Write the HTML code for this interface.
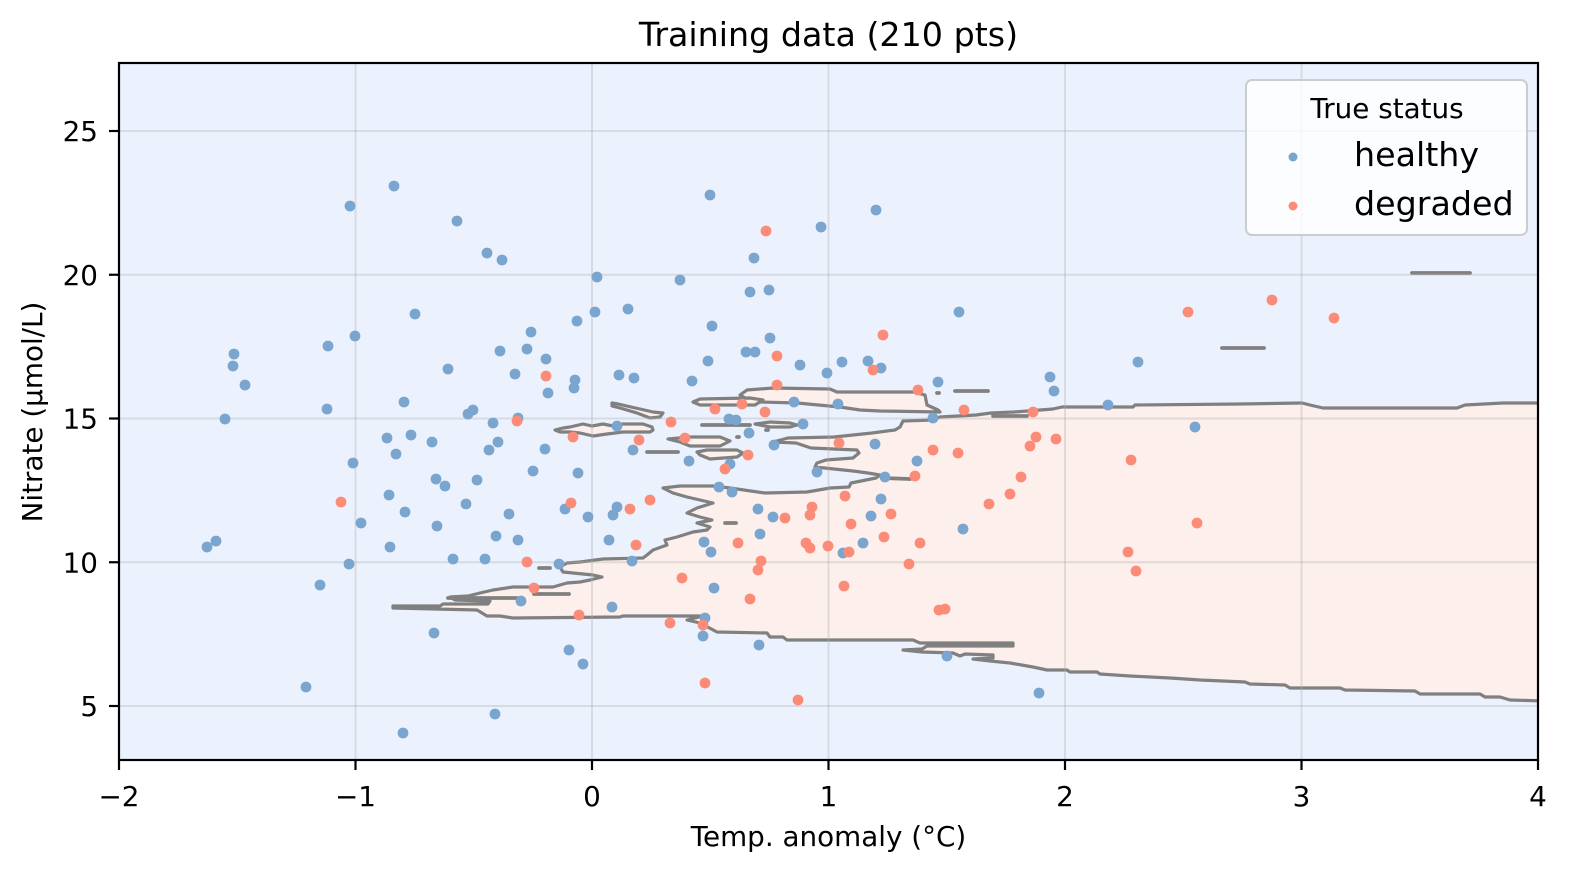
<!DOCTYPE html>
<html>
<head>
<meta charset="utf-8">
<style>
  html,body{margin:0;padding:0;background:#ffffff;}
  svg{display:block;}
  text{font-family:"DejaVu Sans","Liberation Sans",sans-serif;fill:#000;}
</style>
</head>
<body>
<svg width="1572" height="871" viewBox="0 0 1572 871" xmlns="http://www.w3.org/2000/svg">
  <rect x="0" y="0" width="1572" height="871" fill="#ffffff"/>
  <rect x="119" y="63" width="1419" height="697" fill="#ecf2fd"/>

  <defs>
    <clipPath id="plot"><rect x="119" y="63" width="1419" height="697"/></clipPath>
  </defs>

  <g clip-path="url(#plot)">
    <g fill="#fdefeb" stroke="#808080" stroke-width="3.2" stroke-linejoin="round" stroke-linecap="round">
      <path d="M393,608 L393,606 L440,606 L443,604 L488,604 L490,601 L455,600 L450,597 L468,596 L480,593 L493,590 L513,587 L553,587 L567,583 L580,582 L590,580 L602,577 L593,575 L563,572 L560,567 L567,563 L580,562 L603,559 L643,558 L647,555 L653,550 L667,545 L665,540 L677,537 L693,532 L707,530 L710,527 L697,523 L712,520 L700,517 L687,513 L697,508 L713,503 L700,500 L687,497 L673,493 L663,488 L680,486 L713,486 L730,488 L765,493 L807,492 L830,488 L849,487 L851,483 L876,478 L880,475 L868,473 L853,471 L815,467 L817,463 L826,460 L853,458 L859,453 L857,450 L811,448 L796,443 L773,442 L788,438 L834,437 L872,433 L895,430 L900,427 L903,421 L933,420 L940,417 L976,415 L991,413 L1014,412 L1053,409 L1062,407 L1133,407 L1135,405 L1240,404 L1302,403 L1310,405 L1323,408 L1457,408 L1465,405 L1503,403 L1545,403 L1545,701 L1510,700 L1500,697 L1485,697 L1480,694 L1420,694 L1415,691 L1345,690 L1340,688 L1290,688 L1285,685 L1250,684 L1245,682 L1200,680 L1170,678 L1130,676 L1100,674 L1097,672 L1070,672 L1067,670 L1047,670 L1033,667 L1010,663 L990,661 L973,659 L993,658 L993,655 L965,654 L960,656 L953,653 L922,652 L903,650 L922,649 L927,646 L1013,646 L1013,643 L920,643 L913,640 L787,640 L783,637 L770,637 L767,633 L717,632 L700,623 L687,620 L703,616 L623,616 L620,617 L513,618 L500,616 L487,616 L477,610 Z"/>
      <path d="M740,395 L747,390 L773,388 L830,389 L837,392 L873,392 L913,392 L925,395 L927,405 L938,410 L940,412 L880,411 L860,410 L840,407 L797,403 L760,402 L747,399 Z"/>
      <path d="M693,402 L700,399 L750,398 L763,400 L755,405 L700,405 Z"/>
      <path d="M612,403 L618,404 L640,409 L653,412 L663,413 L660,417 L650,418 L637,413 L620,408 L612,406 Z"/>
      <path d="M555,430 L563,428 L570,427 L583,424 L592,426 L603,424 L613,426 L623,424 L643,424 L652,427 L653,430 L650,432 L623,432 L607,434 L593,436 L580,433 L570,432 L560,432 Z"/>
      <path d="M755,424 L770,422 L790,423 L797,425 L790,427 L770,427 Z"/>
      <path d="M668,439 L690,437 L720,437 L730,441 L720,446 L690,446 L680,442 Z"/>
      <path d="M697,452 L707,450 L737,450 L743,453 L737,457 L710,459 L700,455 Z"/>
    </g>
    <g stroke="#808080" stroke-width="3.8" stroke-linecap="round" fill="none">
      <line x1="448" y1="598" x2="517" y2="598"/>
      <line x1="534" y1="594" x2="569" y2="594"/>
      <line x1="539" y1="568" x2="550" y2="568"/>
      <line x1="702" y1="425" x2="750" y2="425"/>
      <line x1="647" y1="452" x2="678" y2="452"/>
      <line x1="766" y1="430" x2="768" y2="430"/>
      <line x1="737" y1="437" x2="739" y2="437"/>
      <line x1="955" y1="391" x2="988" y2="391"/>
      <line x1="937" y1="393" x2="939" y2="393"/>
      <line x1="993" y1="416" x2="1027" y2="416"/>
      <line x1="1222" y1="348" x2="1264" y2="348"/>
      <line x1="1412" y1="273" x2="1470" y2="273"/>
      <line x1="725" y1="523" x2="736" y2="523"/>
      <line x1="882" y1="478" x2="910" y2="479"/>
    </g>

    <g stroke="#b0b0b0" stroke-opacity="0.35" stroke-width="2">
      <line x1="355.5" y1="63" x2="355.5" y2="760"/>
      <line x1="592" y1="63" x2="592" y2="760"/>
      <line x1="828.5" y1="63" x2="828.5" y2="760"/>
      <line x1="1065" y1="63" x2="1065" y2="760"/>
      <line x1="1301.5" y1="63" x2="1301.5" y2="760"/>
      <line x1="119" y1="706" x2="1538" y2="706"/>
      <line x1="119" y1="562.25" x2="1538" y2="562.25"/>
      <line x1="119" y1="418.5" x2="1538" y2="418.5"/>
      <line x1="119" y1="274.75" x2="1538" y2="274.75"/>
      <line x1="119" y1="131" x2="1538" y2="131"/>
    </g>

    <g fill="#79a5cf">
      <circle cx="394" cy="186" r="5.4"/><circle cx="350" cy="206" r="5.4"/><circle cx="457" cy="221" r="5.4"/><circle cx="487" cy="253" r="5.4"/><circle cx="502" cy="260" r="5.4"/>
      <circle cx="415" cy="314" r="5.4"/><circle cx="355" cy="336" r="5.4"/><circle cx="328" cy="346" r="5.4"/><circle cx="234" cy="354" r="5.4"/><circle cx="233" cy="366" r="5.4"/>
      <circle cx="577" cy="321" r="5.4"/><circle cx="531" cy="332" r="5.4"/><circle cx="500" cy="351" r="5.4"/><circle cx="527" cy="349" r="5.4"/><circle cx="546" cy="359" r="5.4"/>
      <circle cx="448" cy="369" r="5.4"/><circle cx="515" cy="374" r="5.4"/><circle cx="575" cy="380" r="5.4"/>
      <circle cx="710" cy="195" r="5.4"/><circle cx="876" cy="210" r="5.4"/><circle cx="821" cy="227" r="5.4"/><circle cx="754" cy="258" r="5.4"/><circle cx="597" cy="277" r="5.4"/>
      <circle cx="680" cy="280" r="5.4"/><circle cx="750" cy="292" r="5.4"/><circle cx="769" cy="290" r="5.4"/><circle cx="595" cy="312" r="5.4"/><circle cx="628" cy="309" r="5.4"/>
      <circle cx="959" cy="312" r="5.4"/><circle cx="712" cy="326" r="5.4"/><circle cx="770" cy="338" r="5.4"/><circle cx="746" cy="352" r="5.4"/><circle cx="755" cy="352" r="5.4"/>
      <circle cx="708" cy="361" r="5.4"/><circle cx="800" cy="365" r="5.4"/><circle cx="842" cy="362" r="5.4"/><circle cx="868" cy="361" r="5.4"/><circle cx="881" cy="368" r="5.4"/>
      <circle cx="827" cy="373" r="5.4"/><circle cx="619" cy="375" r="5.4"/><circle cx="634" cy="378" r="5.4"/><circle cx="692" cy="381" r="5.4"/><circle cx="938" cy="382" r="5.4"/>
      <circle cx="245" cy="385" r="5.4"/><circle cx="327" cy="409" r="5.4"/><circle cx="225" cy="419" r="5.4"/><circle cx="387" cy="438" r="5.4"/><circle cx="353" cy="463" r="5.4"/>
      <circle cx="389" cy="495" r="5.4"/><circle cx="361" cy="523" r="5.4"/><circle cx="390" cy="547" r="5.4"/><circle cx="216" cy="541" r="5.4"/><circle cx="207" cy="547" r="5.4"/>
      <circle cx="349" cy="564" r="5.4"/><circle cx="320" cy="585" r="5.4"/><circle cx="306" cy="687" r="5.4"/>
      <circle cx="574" cy="388" r="5.4"/><circle cx="548" cy="393" r="5.4"/><circle cx="404" cy="402" r="5.4"/><circle cx="468" cy="414" r="5.4"/><circle cx="473" cy="410" r="5.4"/>
      <circle cx="518" cy="418" r="5.4"/><circle cx="493" cy="423" r="5.4"/><circle cx="411" cy="435" r="5.4"/><circle cx="432" cy="442" r="5.4"/><circle cx="489" cy="450" r="5.4"/>
      <circle cx="498" cy="442" r="5.4"/><circle cx="545" cy="449" r="5.4"/><circle cx="617" cy="426" r="5.4"/><circle cx="633" cy="450" r="5.4"/><circle cx="729" cy="419" r="5.4"/>
      <circle cx="736" cy="420" r="5.4"/><circle cx="749" cy="433" r="5.4"/><circle cx="774" cy="445" r="5.4"/><circle cx="689" cy="461" r="5.4"/><circle cx="730" cy="464" r="5.4"/>
      <circle cx="533" cy="471" r="5.4"/><circle cx="578" cy="473" r="5.4"/><circle cx="396" cy="454" r="5.4"/><circle cx="436" cy="479" r="5.4"/><circle cx="445" cy="486" r="5.4"/>
      <circle cx="477" cy="480" r="5.4"/><circle cx="405" cy="512" r="5.4"/><circle cx="466" cy="504" r="5.4"/><circle cx="509" cy="514" r="5.4"/><circle cx="565" cy="509" r="5.4"/>
      <circle cx="588" cy="517" r="5.4"/><circle cx="617" cy="507" r="5.4"/><circle cx="613" cy="515" r="5.4"/><circle cx="719" cy="487" r="5.4"/><circle cx="732" cy="492" r="5.4"/>
      <circle cx="758" cy="509" r="5.4"/><circle cx="773" cy="517" r="5.4"/><circle cx="437" cy="526" r="5.4"/><circle cx="496" cy="536" r="5.4"/><circle cx="518" cy="540" r="5.4"/>
      <circle cx="609" cy="540" r="5.4"/><circle cx="704" cy="542" r="5.4"/><circle cx="711" cy="552" r="5.4"/><circle cx="760" cy="534" r="5.4"/><circle cx="453" cy="559" r="5.4"/>
      <circle cx="485" cy="559" r="5.4"/><circle cx="559" cy="564" r="5.4"/><circle cx="632" cy="561" r="5.4"/><circle cx="714" cy="588" r="5.4"/><circle cx="521" cy="601" r="5.4"/>
      <circle cx="612" cy="607" r="5.4"/><circle cx="705" cy="618" r="5.4"/><circle cx="703" cy="636" r="5.4"/><circle cx="759" cy="645" r="5.4"/><circle cx="434" cy="633" r="5.4"/>
      <circle cx="569" cy="650" r="5.4"/>
      <circle cx="1138" cy="362" r="5.4"/><circle cx="1050" cy="377" r="5.4"/><circle cx="1054" cy="391" r="5.4"/><circle cx="794" cy="402" r="5.4"/><circle cx="838" cy="404" r="5.4"/>
      <circle cx="1108" cy="405" r="5.4"/><circle cx="1195" cy="427" r="5.4"/><circle cx="933" cy="418" r="5.4"/><circle cx="803" cy="424" r="5.4"/><circle cx="875" cy="444" r="5.4"/>
      <circle cx="917" cy="461" r="5.4"/><circle cx="817" cy="472" r="5.4"/><circle cx="885" cy="477" r="5.4"/><circle cx="881" cy="499" r="5.4"/><circle cx="871" cy="516" r="5.4"/>
      <circle cx="963" cy="529" r="5.4"/><circle cx="843" cy="553" r="5.4"/><circle cx="863" cy="543" r="5.4"/><circle cx="947" cy="656" r="5.4"/><circle cx="1039" cy="693" r="5.4"/>
      <circle cx="583" cy="664" r="5.4"/><circle cx="495" cy="714" r="5.4"/><circle cx="403" cy="733" r="5.4"/>
    </g>
    <g fill="#fc8c77">
      <circle cx="546" cy="376" r="5.4"/><circle cx="766" cy="231" r="5.4"/><circle cx="883" cy="335" r="5.4"/><circle cx="777" cy="356" r="5.4"/><circle cx="873" cy="370" r="5.4"/>
      <circle cx="517" cy="421" r="5.4"/><circle cx="573" cy="437" r="5.4"/><circle cx="639" cy="440" r="5.4"/><circle cx="671" cy="422" r="5.4"/><circle cx="685" cy="438" r="5.4"/>
      <circle cx="715" cy="409" r="5.4"/><circle cx="742" cy="404" r="5.4"/><circle cx="765" cy="412" r="5.4"/><circle cx="777" cy="385" r="5.4"/><circle cx="748" cy="455" r="5.4"/>
      <circle cx="725" cy="469" r="5.4"/><circle cx="341" cy="502" r="5.4"/><circle cx="571" cy="503" r="5.4"/><circle cx="630" cy="509" r="5.4"/><circle cx="650" cy="500" r="5.4"/>
      <circle cx="636" cy="545" r="5.4"/><circle cx="738" cy="543" r="5.4"/><circle cx="527" cy="562" r="5.4"/><circle cx="682" cy="578" r="5.4"/><circle cx="761" cy="561" r="5.4"/>
      <circle cx="758" cy="570" r="5.4"/><circle cx="750" cy="599" r="5.4"/><circle cx="534" cy="588" r="5.4"/><circle cx="579" cy="615" r="5.4"/><circle cx="670" cy="623" r="5.4"/>
      <circle cx="703" cy="625" r="5.4"/>
      <circle cx="918" cy="390" r="5.4"/><circle cx="964" cy="410" r="5.4"/><circle cx="1033" cy="412" r="5.4"/><circle cx="839" cy="443" r="5.4"/><circle cx="1036" cy="437" r="5.4"/>
      <circle cx="1056" cy="439" r="5.4"/><circle cx="1030" cy="446" r="5.4"/><circle cx="933" cy="450" r="5.4"/><circle cx="958" cy="453" r="5.4"/><circle cx="1131" cy="460" r="5.4"/>
      <circle cx="1021" cy="477" r="5.4"/><circle cx="915" cy="476" r="5.4"/><circle cx="1010" cy="494" r="5.4"/><circle cx="989" cy="504" r="5.4"/><circle cx="845" cy="496" r="5.4"/>
      <circle cx="812" cy="507" r="5.4"/><circle cx="810" cy="515" r="5.4"/><circle cx="785" cy="518" r="5.4"/><circle cx="891" cy="514" r="5.4"/><circle cx="851" cy="524" r="5.4"/>
      <circle cx="1197" cy="523" r="5.4"/><circle cx="806" cy="543" r="5.4"/><circle cx="810" cy="548" r="5.4"/><circle cx="828" cy="546" r="5.4"/><circle cx="849" cy="552" r="5.4"/>
      <circle cx="884" cy="537" r="5.4"/><circle cx="920" cy="543" r="5.4"/><circle cx="1128" cy="552" r="5.4"/><circle cx="1136" cy="571" r="5.4"/><circle cx="909" cy="564" r="5.4"/>
      <circle cx="844" cy="586" r="5.4"/><circle cx="939" cy="610" r="5.4"/><circle cx="945" cy="609" r="5.4"/><circle cx="705" cy="683" r="5.4"/><circle cx="798" cy="700" r="5.4"/>
      <circle cx="1188" cy="312" r="5.4"/><circle cx="1272" cy="300" r="5.4"/><circle cx="1334" cy="318" r="5.4"/>
    </g>
  </g>

  <rect x="119" y="63" width="1419" height="697" fill="none" stroke="#000" stroke-width="2.2"/>

  <g stroke="#000" stroke-width="2.2">
    <line x1="119" y1="760" x2="119" y2="770"/>
    <line x1="355.5" y1="760" x2="355.5" y2="770"/>
    <line x1="592" y1="760" x2="592" y2="770"/>
    <line x1="828.5" y1="760" x2="828.5" y2="770"/>
    <line x1="1065" y1="760" x2="1065" y2="770"/>
    <line x1="1301.5" y1="760" x2="1301.5" y2="770"/>
    <line x1="1538" y1="760" x2="1538" y2="770"/>
    <line x1="109" y1="706" x2="119" y2="706"/>
    <line x1="109" y1="562.25" x2="119" y2="562.25"/>
    <line x1="109" y1="418.5" x2="119" y2="418.5"/>
    <line x1="109" y1="274.75" x2="119" y2="274.75"/>
    <line x1="109" y1="131" x2="119" y2="131"/>
  </g>
  <g font-size="27.8" text-anchor="middle">
    <text x="119" y="806">−2</text>
    <text x="355.5" y="806">−1</text>
    <text x="592" y="806">0</text>
    <text x="828.5" y="806">1</text>
    <text x="1065" y="806">2</text>
    <text x="1301.5" y="806">3</text>
    <text x="1538" y="806">4</text>
  </g>
  <g font-size="27.8" text-anchor="end">
    <text x="98" y="716">5</text>
    <text x="98" y="572.25">10</text>
    <text x="98" y="428.5">15</text>
    <text x="98" y="284.75">20</text>
    <text x="98" y="141">25</text>
  </g>

  <text x="828.5" y="846" font-size="27.8" text-anchor="middle">Temp. anomaly (°C)</text>
  <text x="0" y="0" font-size="27.8" text-anchor="middle" transform="translate(42,412) rotate(-90)">Nitrate (μmol/L)</text>

  <text x="828.5" y="46" font-size="33.3" text-anchor="middle">Training data (210 pts)</text>

  <rect x="1246" y="80" width="281" height="155" rx="6" ry="6" fill="#ffffff" fill-opacity="0.8" stroke="#cccccc" stroke-width="2"/>
  <text x="1387" y="118" font-size="27.8" text-anchor="middle">True status</text>
  <circle cx="1293" cy="157" r="4.5" fill="#79a5cf"/>
  <circle cx="1293" cy="206" r="4.5" fill="#fc8c77"/>
  <text x="1354" y="166" font-size="33.3">healthy</text>
  <text x="1354" y="215" font-size="33.3">degraded</text>
</svg>
</body>
</html>
